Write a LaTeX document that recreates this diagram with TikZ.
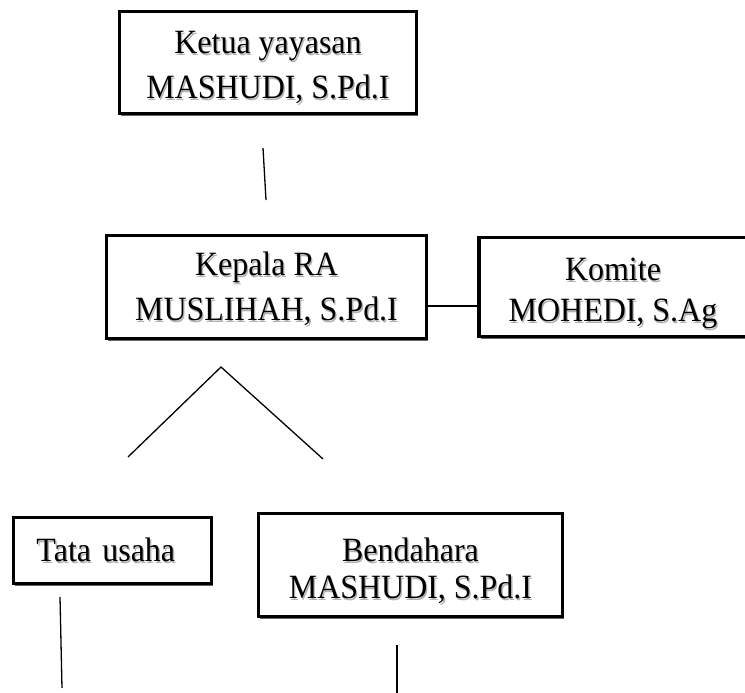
\documentclass[tikz,border=0pt]{standalone}
\usepackage{fontspec}
\setmainfont{Liberation Serif}[FakeStretch=0.94]
\usetikzlibrary{shadows}
\newcommand\tinggi[1]{\rule{0pt}{#1}}
\newcommand\bayang[1]{\leavevmode\rlap{\kern1.3pt\raisebox{-2pt}{\textcolor{black!30}{#1}}}#1}
\tikzset{
  kotak/.style={draw, line width=3.8pt, fill=white, inner sep=0pt, align=center,
    font=\fontsize{34}{44}\selectfont,
    drop shadow={shadow xshift=1.8pt, shadow yshift=-2.6pt, fill=black!60, opacity=1}},
  garis/.style={line width=1.3pt}
}
\begin{document}
\begin{tikzpicture}[x=1pt, y=-1pt]
      \useasboundingbox (0,0) rectangle (745,693);
      \node[kotak, minimum width=297, minimum height=102] (ketua) at (268,62.5)
        {\tinggi{35pt}\bayang{Ketua yayasan}\\[1pt]\bayang{MASHUDI, S.Pd.I}};   % ketua yayasan
      \node[kotak, minimum width=320, minimum height=103] (kepala) at (266.5,287)
        {\tinggi{30pt}\bayang{Kepala RA}\\[1pt]\bayang{MUSLIHAH, S.Pd.I}};      % kepala RA
      \node[kotak, minimum width=268, minimum height=99] (komite) at (613,287)
        {\tinggi{38pt}\bayang{Komite}\\[-3pt]\bayang{MOHEDI, S.Ag}};            % komite
      \node[kotak, minimum width=198, minimum height=66, text width=152, align=left,
        inner xsep=23pt] (tu) at (112.5,550.5) {\bayang{Tata usaha}};           % tata usaha
      \node[kotak, minimum width=304, minimum height=103] (bendahara) at (410.5,565)
        {\tinggi{38pt}\bayang{Bendahara}\\[-7pt]\bayang{MASHUDI, S.Pd.I}};       % bendahara
      % garis-garis lepas
      \coordinate (a1) at (263,148);  \coordinate (a2) at (266,200);
      \coordinate (puncak) at (221,367);
      \coordinate (kiri) at (128,457); \coordinate (kanan) at (323,459);
      \coordinate (t1) at (60,597);   \coordinate (t2) at (62,688);
      \coordinate (b1) at (397,645);  \coordinate (b2) at (397,693);
      \draw[garis] (a1) -- (a2);                                % di bawah ketua
      \draw[line width=2pt] ([yshift=-19pt]kepala.east) -- ([yshift=-19pt]komite.west);
      \draw[garis] (kiri) -- (puncak) -- (kanan);               % cabang
      \draw[garis] (t1) -- (t2);                                % di bawah tata usaha
      \draw[garis] (b1) -- (b2);                                % di bawah bendahara
    \end{tikzpicture}
\end{document}
